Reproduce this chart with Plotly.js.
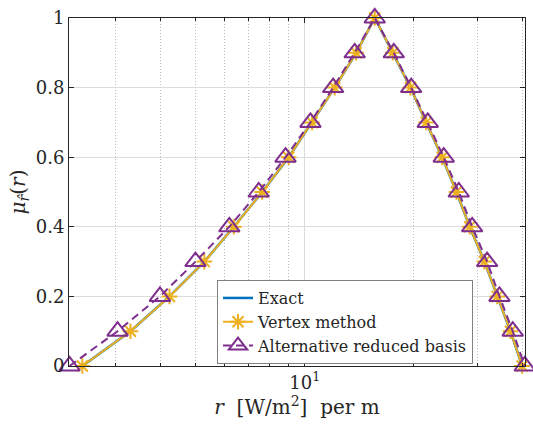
<!DOCTYPE html>
<html>
<head>
<meta charset="utf-8">
<script src="https://cdn.plot.ly/plotly-3.0.1.min.js"></script>
<style>html,body{margin:0;padding:0;background:#fff;}#chart{width:533px;height:426px;}</style>
</head>
<body>
<div id="chart"></div>
<script>
// membership levels
const levels = [0, 0.1, 0.2, 0.3, 0.4, 0.5, 0.6, 0.7, 0.8, 0.9, 1, 0.9, 0.8, 0.7, 0.6, 0.5, 0.4, 0.3, 0.2, 0.1, 0];
// Exact
const exactR = [2.43, 3.30, 4.23, 5.28, 6.37, 7.63, 9.03, 10.48, 12.10, 13.87, 15.61, 17.51, 19.59, 21.65, 23.97, 26.25, 28.56, 31.36, 34.01, 37.01, 39.87];
// Vertex method
const vertexR = [2.43, 3.30, 4.23, 5.28, 6.37, 7.63, 9.03, 10.48, 12.10, 13.87, 15.61, 17.51, 19.59, 21.65, 23.97, 26.25, 28.56, 31.36, 34.01, 37.01, 39.87];
// Alternative reduced basis
const altR = [2.24, 3.04, 3.98, 4.99, 6.19, 7.46, 8.85, 10.37, 11.98, 13.74, 15.61, 17.62, 19.68, 21.87, 24.21, 26.64, 29.01, 31.91, 34.51, 37.55, 40.53];
const yTicks = [0, 0.2, 0.4, 0.6, 0.8, 1];
const yTickText = ['0', '0.2', '0.4', '0.6', '0.8', '1'];
const xTicks = [10];
const xTickText = ['10<sup>1</sup>'];
const xMinor = [3, 4, 5, 6, 7, 8, 9, 20, 30, 40];
const names = ['Exact', 'Vertex method', 'Alternative reduced basis'];

const FONT = '"DejaVu Serif", "Liberation Serif", serif';
const traces = [
  {x: exactR, y: levels, name: names[0], mode: 'lines', cliponaxis: false, line: {color: '#0072BD', width: 2.5}},
  {x: vertexR, y: levels, name: names[1], mode: 'lines+markers', cliponaxis: false, line: {color: '#EDB120', width: 2},
   marker: {symbol: 'asterisk-open', size: 13, color: '#EDB120', line: {color: '#EDB120', width: 2}}},
  {x: altR, y: levels, name: names[2], mode: 'lines+markers', cliponaxis: false, line: {color: '#7E2F8E', width: 2, dash: '8px,5px'},
   marker: {symbol: 'triangle-up-open', size: 18, color: '#7E2F8E', line: {color: '#7E2F8E', width: 2}}}
];
const layout = {
  width: 533, height: 426,
  margin: {l: 69, r: 8, t: 18, b: 60},
  paper_bgcolor: '#fff', plot_bgcolor: '#fff',
  font: {family: FONT, size: 17, color: '#262626'},
  showlegend: true,
  legend: {x: 0.3246, y: 0.247, xanchor: 'left', yanchor: 'top', bgcolor: '#fff', bordercolor: '#808080', borderwidth: 1,
           font: {family: FONT, size: 16, color: '#262626'}, tracegroupgap: 0},
  xaxis: {
    type: 'log', range: [Math.log10(2.232), Math.log10(40.6)],
    tickmode: 'array', tickvals: xTicks, ticktext: xTickText,
    ticks: 'inside', ticklen: 5, tickcolor: '#262626',
    showline: true, linecolor: '#262626', linewidth: 1, mirror: 'ticks',
    showgrid: true, gridcolor: '#dcdcdc', gridwidth: 1, zeroline: false,
    minor: {tickmode: 'array', tickvals: xMinor, ticks: 'inside', ticklen: 3, tickcolor: '#262626',
            showgrid: true, gridcolor: '#bdbdbd', griddash: '1px,2px', gridwidth: 1},
    title: {text: '<i>r</i>\u00a0\u00a0[W/m<sup>2</sup>]\u00a0\u00a0per\u00a0m', font: {family: FONT, size: 20, color: '#262626'}, standoff: 6},
    tickfont: {family: FONT, size: 18}
  },
  yaxis: {
    range: [0, 1], tickmode: 'array', tickvals: yTicks, ticktext: yTickText,
    ticks: 'inside', ticklen: 5, tickcolor: '#262626',
    showline: true, linecolor: '#262626', linewidth: 1, mirror: 'ticks',
    showgrid: true, gridcolor: '#dcdcdc', gridwidth: 1, zeroline: false,
    title: {text: '<i>μ</i><sub><i>r̂</i></sub>(<i>r</i>)', font: {family: FONT, size: 20, color: '#262626'}, standoff: 4},
    tickfont: {family: FONT, size: 18}
  }
};
Plotly.newPlot('chart', traces, layout, {displayModeBar: false, staticPlot: true});
</script>
</body>
</html>
